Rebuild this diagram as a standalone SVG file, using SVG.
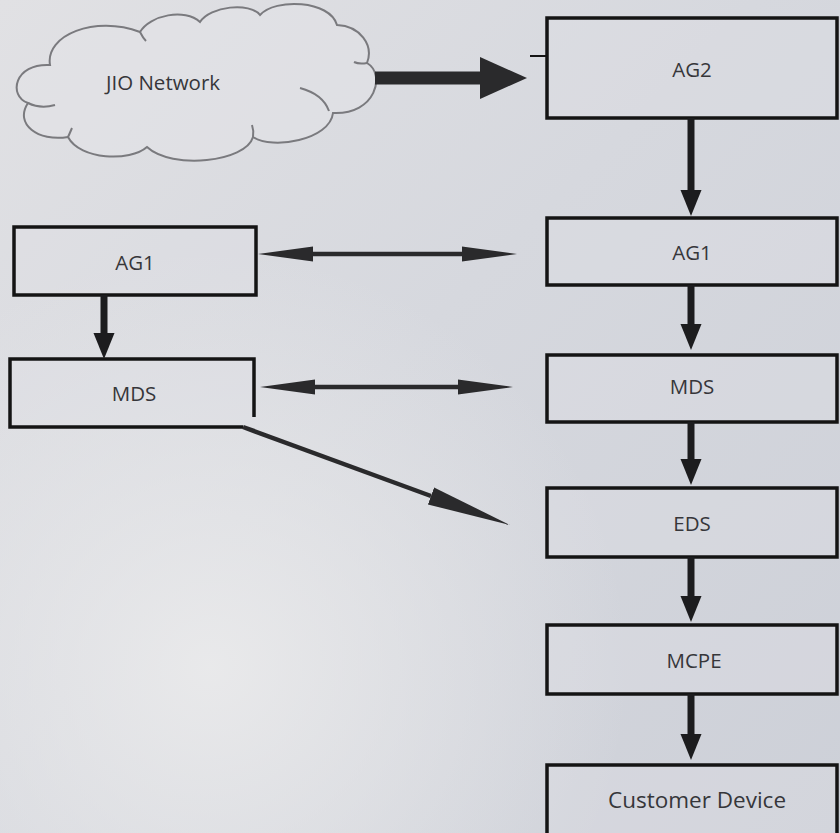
<svg xmlns="http://www.w3.org/2000/svg" width="840" height="833" viewBox="0 0 840 833">
  <defs>
    <linearGradient id="bg" x1="0" y1="0" x2="1" y2="1">
      <stop offset="0" stop-color="#e1e1e4"/>
      <stop offset="0.45" stop-color="#d6d8de"/>
      <stop offset="1" stop-color="#cdd0d8"/>
    </linearGradient>
    <radialGradient id="glow" cx="0.25" cy="0.8" r="0.5">
      <stop offset="0" stop-color="#ebebec" stop-opacity="0.9"/>
      <stop offset="1" stop-color="#ebebec" stop-opacity="0"/>
    </radialGradient>
    <marker id="headV" markerUnits="userSpaceOnUse" markerWidth="30" markerHeight="30" refX="0" refY="0" viewBox="0 -15 30 30" orient="auto">
      <path d="M0,-10.5 L26,0 L0,10.5 Z" fill="#1c1c1e"/>
    </marker>
    <marker id="headBig" markerUnits="userSpaceOnUse" markerWidth="50" markerHeight="50" refX="0" refY="0" viewBox="0 -25 50 50" orient="auto">
      <path d="M0,-21 L47,0 L0,21 Z" fill="#2a2a2c"/>
    </marker>
    <marker id="headThin" markerUnits="userSpaceOnUse" markerWidth="60" markerHeight="20" refX="0" refY="0" viewBox="0 -10 60 20" orient="auto-start-reverse">
      <path d="M0,-7.5 L55,0 L0,7.5 Z" fill="#2a2a2c"/>
    </marker>
    <marker id="headDiag" markerUnits="userSpaceOnUse" markerWidth="90" markerHeight="24" refX="0" refY="0" viewBox="0 -12 90 24" orient="auto">
      <path d="M0,-9 L84,0 L0,9 Z" fill="#2a2a2c"/>
    </marker>
  </defs>
  <style>
    .box { fill: #dfe0e4; fill-opacity: 0.35; stroke: #141414; stroke-width: 3.5; }
    .lbl { font-family: "Open Sans", "Lato", "Liberation Sans", sans-serif; font-size: 20.5px; fill: #36363a; text-anchor: middle; }
    .cloud { fill: #e4e4e7; fill-opacity: 0.5; stroke: #7a7a7e; stroke-width: 2; }
    .inner { fill: none; stroke: #7a7a7e; stroke-width: 2; }
    .v { stroke: #1c1c1e; stroke-width: 7; fill: none; }
    .thin { stroke: #2a2a2c; stroke-width: 4.5; fill: none; }
  </style>

  <rect x="0" y="0" width="840" height="833" fill="url(#bg)"/>
  <rect x="0" y="0" width="840" height="833" fill="url(#glow)"/>

  <g id="jio-network">
    <path class="cloud" d="M50,65 C45,35 95,15 140,32 C150,15 185,8 200,22 C210,6 250,2 260,15 C275,-2 330,0 337,25 C360,26 374,45 367,63 C386,74 376,115 333,113 C330,140 272,150 253,137 C246,162 172,170 147,147 C130,162 80,160 68,137 C38,142 14,124 28,103 C8,96 14,63 50,65 Z"/>
    <path class="inner" d="M28,103 C38,108 48,107 55,105"/>
    <path class="inner" d="M68,137 C70,133 71,130 72,128"/>
    <path class="inner" d="M300,88 C315,92 325,100 329,111"/>
    <path class="inner" d="M354,62 C358,64 362,64 367,63"/>
    <path class="inner" d="M140,32 C142,36 144,39 146,41"/>
    <path class="inner" d="M253,137 C254,132 253,128 252,125"/>
    <text class="lbl" x="163" y="90">JIO Network</text>
  </g>

  <g id="ag2">
    <rect class="box" x="547" y="18" width="290" height="100"/>
    <line x1="530" y1="56" x2="547" y2="56" stroke="#141414" stroke-width="2"/>
    <text class="lbl" x="692" y="77">AG2</text>
  </g>
  <g id="ag1-right">
    <rect class="box" x="547" y="218" width="290" height="67"/>
    <text class="lbl" x="692" y="260">AG1</text>
  </g>
  <g id="mds-right">
    <rect class="box" x="547" y="355" width="290" height="67"/>
    <text class="lbl" x="692" y="394">MDS</text>
  </g>
  <g id="eds">
    <rect class="box" x="547" y="488" width="290" height="69"/>
    <text class="lbl" x="692" y="531">EDS</text>
  </g>
  <g id="mcpe">
    <rect class="box" x="547" y="625" width="290" height="69"/>
    <text class="lbl" x="694" y="668">MCPE</text>
  </g>
  <g id="customer-device">
    <rect class="box" x="547" y="765" width="290" height="80"/>
    <text class="lbl" x="697" y="808" style="font-size:22.5px">Customer Device</text>
  </g>

  <g id="ag1-left">
    <rect class="box" x="14" y="227" width="242" height="68"/>
    <text class="lbl" x="135" y="270">AG1</text>
  </g>
  <g id="mds-left">
    <path class="box" d="M243,427 L10,427 L10,359 L254,359 L254,417"/>
    <text class="lbl" x="134" y="401">MDS</text>
  </g>

  <g id="connectors">
    <line x1="375" y1="78" x2="480" y2="78" stroke="#2a2a2c" stroke-width="13" marker-end="url(#headBig)"/>
    <line class="v" x1="691" y1="118" x2="691" y2="190" marker-end="url(#headV)"/>
    <line class="v" x1="691" y1="285" x2="691" y2="324" marker-end="url(#headV)"/>
    <line class="v" x1="691" y1="422" x2="691" y2="459" marker-end="url(#headV)"/>
    <line class="v" x1="691" y1="557" x2="691" y2="596" marker-end="url(#headV)"/>
    <line class="v" x1="691" y1="694" x2="691" y2="734" marker-end="url(#headV)"/>
    <line class="v" x1="104" y1="295" x2="104" y2="333" marker-end="url(#headV)"/>
    <line class="thin" x1="313" y1="254" x2="462" y2="254" marker-start="url(#headThin)" marker-end="url(#headThin)"/>
    <line class="thin" x1="315" y1="387" x2="458" y2="387" marker-start="url(#headThin)" marker-end="url(#headThin)"/>
    <line class="thin" x1="243" y1="427" x2="431" y2="496" marker-end="url(#headDiag)"/>
  </g>
</svg>
